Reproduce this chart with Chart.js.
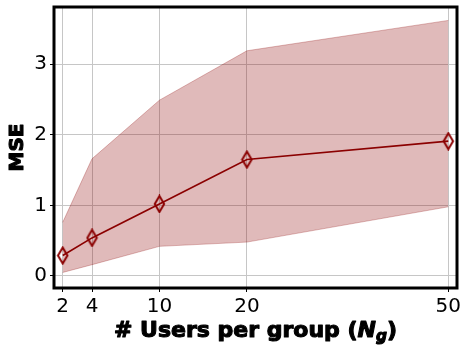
<!DOCTYPE html>
<html>
<head>
<meta charset="utf-8">
<script src="https://cdn.jsdelivr.net/npm/chart.js@4/dist/chart.umd.min.js"></script>
<style>
  html, body { margin: 0; padding: 0; background: #ffffff; }
  #wrap { width: 462px; height: 345px; }
</style>
</head>
<body>
<div id="wrap"><canvas id="c" width="462" height="345"></canvas></div>
<script>
// Group sizes and the MSE statistics measured for each
const groupSizes = [2, 4, 10, 20, 50];
const mseMean = [0.29, 0.54, 1.02, 1.65, 1.91];
const mseLow = [0.05, 0.16, 0.42, 0.48, 0.98];
const mseHigh = [0.76, 1.66, 2.49, 3.19, 3.62];
const xTickLabels = ['2', '4', '10', '20', '50'];
const yTickValues = [0, 1, 2, 3];

// The x axis uses a power-compressed scale
const POW = 0.68;
const fx = v => Math.pow(v, POW);

const RED = '#8b0000';
const BAND = 'rgba(139, 0, 0, 0.27)';
const FONT = '"DejaVu Sans", sans-serif';

// Thin diamond marker
function thinDiamond() {
  const w = 13, h = 19;
  const c = document.createElement('canvas');
  c.width = w; c.height = h;
  const g = c.getContext('2d');
  g.strokeStyle = RED;
  g.lineWidth = 2;
  g.lineJoin = 'miter';
  g.beginPath();
  g.moveTo(w / 2, 1.5);
  g.lineTo(w - 1.8, h / 2);
  g.lineTo(w / 2, h - 1.5);
  g.lineTo(1.8, h / 2);
  g.closePath();
  g.stroke();
  return c;
}

const pts = arr => groupSizes.map((n, i) => ({ x: fx(n), y: arr[i] }));

const span = fx(50) - fx(2);
const pad = span * 0.0226;

// Heavy black frame around the plotting area
const framePlugin = {
  id: 'frame',
  afterDraw(chart) {
    const { ctx, chartArea: a } = chart;
    ctx.save();
    ctx.strokeStyle = '#000';
    ctx.lineWidth = 3;
    ctx.strokeRect(a.left, a.top, a.right - a.left, a.bottom - a.top);
    ctx.restore();
  }
};

// Draw heavy text: fill plus a thin outline of the same colour
function heavyText(ctx, t, x, y) {
  ctx.fillText(t, x, y);
  ctx.strokeText(t, x, y);
}

// Axis titles; the x title carries a math-style subscript
const titlesPlugin = {
  id: 'axisTitles',
  afterDraw(chart) {
    const { ctx } = chart;
    const a = chart.chartArea;
    const size = 22;
    const parts = [
      { t: '# Users per group (', f: `bold ${size}px ${FONT}`, dy: 0 },
      { t: 'N', f: `italic bold ${size}px ${FONT}`, dy: 0 },
      { t: 'g', f: `italic bold ${size * 0.7}px ${FONT}`, dy: size * 0.2 },
      { t: ')', f: `bold ${size}px ${FONT}`, dy: 0 }
    ];
    ctx.save();
    ctx.fillStyle = '#000';
    ctx.strokeStyle = '#000';
    ctx.lineWidth = 1.1;
    ctx.lineJoin = 'round';
    ctx.textBaseline = 'alphabetic';
    ctx.textAlign = 'left';
    let total = 0;
    parts.forEach(p => { ctx.font = p.f; p.w = ctx.measureText(p.t).width; total += p.w; });
    let x = (a.left + a.right) / 2 - total / 2;
    const base = 336.5;
    parts.forEach(p => {
      ctx.font = p.f;
      heavyText(ctx, p.t, x, base + p.dy);
      x += p.w;
    });

    // y title
    ctx.translate(17.5, (a.top + a.bottom) / 2);
    ctx.rotate(-Math.PI / 2);
    ctx.font = `bold 20px ${FONT}`;
    ctx.textAlign = 'center';
    ctx.textBaseline = 'middle';
    heavyText(ctx, 'MSE', 0, 0);
    ctx.restore();
  }
};

const gridOpts = { color: '#c6c6c6', lineWidth: 1, tickColor: '#000', tickLength: 4, tickWidth: 1 };

// Fixed axis box sizes, without the extra room Chart.js reserves for edge labels
function fixX(s) { s.height = 57; s.paddingLeft = 0; s.paddingRight = 0; s.paddingTop = 0; s.paddingBottom = 0; }
function fixY(s) { s.width = 54; s.paddingLeft = 0; s.paddingRight = 0; s.paddingTop = 0; s.paddingBottom = 0; }

new Chart(document.getElementById('c'), {
  type: 'line',
  data: {
    datasets: [
      {
        label: 'mean',
        data: pts(mseMean),
        borderColor: RED,
        borderWidth: 1.7,
        pointStyle: thinDiamond(),
        pointRadius: 6,
        fill: false,
        order: 0
      },
      {
        label: 'low',
        data: pts(mseLow),
        borderColor: BAND,
        borderWidth: 1,
        pointRadius: 0,
        fill: false,
        order: 2
      },
      {
        label: 'high',
        data: pts(mseHigh),
        borderColor: BAND,
        borderWidth: 1,
        backgroundColor: BAND,
        pointRadius: 0,
        fill: '-1',
        order: 1
      }
    ]
  },
  options: {
    responsive: false,
    animation: false,
    devicePixelRatio: 1,
    layout: { autoPadding: false, padding: { top: 7, right: 5, left: 0, bottom: 0 } },
    plugins: { legend: { display: false }, tooltip: { enabled: false } },
    elements: { line: { tension: 0 } },
    scales: {
      x: {
        type: 'linear',
        min: fx(2) - pad,
        max: fx(50) + pad,
        afterBuildTicks: s => { s.ticks = groupSizes.map(v => ({ value: fx(v) })); },
        afterFit: fixX,
        grid: gridOpts,
        border: { display: false },
        ticks: {
          autoSkip: false, maxRotation: 0, padding: 3, color: '#000',
          font: { family: FONT, size: 20 },
          callback: (v, i) => xTickLabels[i]
        }
      },
      y: {
        type: 'linear',
        min: -0.17,
        max: 3.81,
        afterBuildTicks: s => { s.ticks = yTickValues.map(v => ({ value: v })); },
        afterFit: fixY,
        grid: gridOpts,
        border: { display: false },
        ticks: {
          padding: 3, color: '#000',
          font: { family: FONT, size: 20 },
          callback: v => String(v)
        }
      }
    }
  },
  plugins: [framePlugin, titlesPlugin]
});
</script>
</body>
</html>
